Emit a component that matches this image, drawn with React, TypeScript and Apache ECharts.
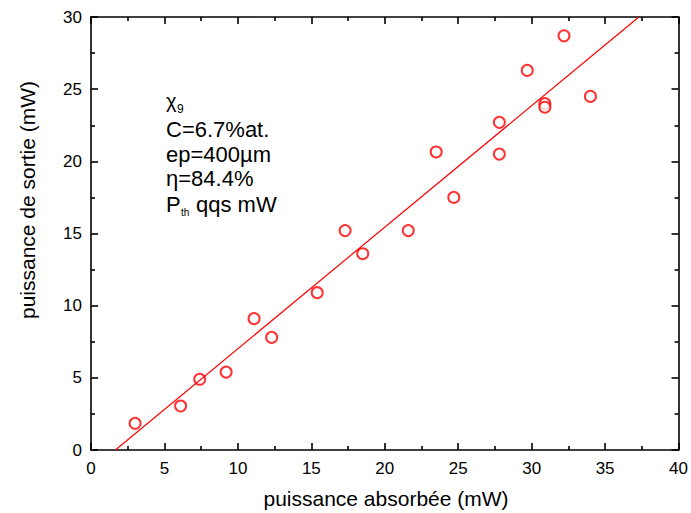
import React, { useEffect, useRef } from "react";
import * as echarts from "echarts";

const absorbed = [3.0, 6.1, 7.4, 9.2, 11.1, 12.3, 15.4, 17.3, 18.5, 21.6, 23.5, 24.7, 27.8, 27.8, 29.7, 30.9, 30.9, 32.2, 34.0];
const output = [1.85, 3.05, 4.9, 5.4, 9.1, 7.8, 10.9, 15.2, 13.6, 15.2, 20.65, 17.5, 22.7, 20.5, 26.3, 24.0, 23.75, 28.7, 24.5];
const fitX = [1.66, 37.3];
const fitY = [0, 30];
const xTitle = "puissance absorbée (mW)";
const yTitle = "puissance de sortie (mW)";

const FONT = "Liberation Sans, Arial, Helvetica, sans-serif";

export default function App() {
  const ref = useRef<HTMLDivElement>(null);
  useEffect(() => {
    if (!ref.current) return;
    const chart = echarts.init(ref.current, undefined, { renderer: "svg" });
    const axisCommon = {
      axisLine: { show: true, onZero: false, lineStyle: { color: "#000", width: 1.6 } },
      axisTick: { show: true, inside: true, length: 7, lineStyle: { color: "#000", width: 1.6 } },
      minorTick: { show: true, splitNumber: 2, length: 4, lineStyle: { color: "#000", width: 1.6 } },
      splitLine: { show: false },
      minorSplitLine: { show: false },
    };
    const xBase = { type: "value", min: 0, max: 40, interval: 5, ...axisCommon };
    const yBase = { type: "value", min: 0, max: 30, interval: 5, ...axisCommon };
    chart.setOption({
      animation: false,
      backgroundColor: "#fff",
      grid: { left: 91, right: 9, top: 17, bottom: 63 },
      xAxis: [
        { ...xBase, position: "bottom", axisLabel: { color: "#000", fontSize: 17, fontFamily: FONT, margin: 10 } },
        { ...xBase, position: "top", axisLabel: { show: false } },
      ],
      yAxis: [
        { ...yBase, position: "left", axisLabel: { color: "#000", fontSize: 17, fontFamily: FONT, margin: 9 } },
        { ...yBase, position: "right", axisLabel: { show: false } },
      ],
      series: [
        {
          type: "scatter",
          data: absorbed.map((x, i) => [x, output[i]]),
          symbol: "emptyCircle",
          symbolSize: 11,
          itemStyle: { color: "#ff0000", borderWidth: 1.2 },
        },
        {
          type: "line",
          data: fitX.map((x, i) => [x, fitY[i]]),
          symbol: "none",
          lineStyle: { color: "#ff0000", width: 1.2 },
        },
      ],
      graphic: [
        { type: "text", x: 386, y: 498, style: { text: xTitle, font: `21px ${FONT}`, fill: "#000", align: "center", verticalAlign: "middle" } },
        { type: "text", x: 27, y: 200, rotation: Math.PI / 2, style: { text: yTitle, font: `21px ${FONT}`, fill: "#000", align: "center", verticalAlign: "middle" } },
        { type: "text", x: 166, y: 100.5, style: { text: "χ", font: `20px ${FONT}`, fill: "#000", align: "left", verticalAlign: "middle" } },
        { type: "text", x: 177, y: 108.5, style: { text: "9", font: `12px ${FONT}`, fill: "#000", align: "left", verticalAlign: "middle" } },
        { type: "text", x: 166, y: 129.3, style: { text: "C=6.7%at.", font: `22px ${FONT}`, fill: "#000", align: "left", verticalAlign: "middle" } },
        { type: "text", x: 166, y: 154.3, style: { text: "ep=400µm", font: `22px ${FONT}`, fill: "#000", align: "left", verticalAlign: "middle" } },
        { type: "text", x: 166, y: 178.3, style: { text: "η=84.4%", font: `22px ${FONT}`, fill: "#000", align: "left", verticalAlign: "middle" } },
        { type: "text", x: 166, y: 204.3, style: { text: "P", font: `22px ${FONT}`, fill: "#000", align: "left", verticalAlign: "middle" } },
        { type: "text", x: 181, y: 212.5, style: { text: "th", font: `10px ${FONT}`, fill: "#000", align: "left", verticalAlign: "middle" } },
        { type: "text", x: 196, y: 204.3, style: { text: "qqs mW", font: `22px ${FONT}`, fill: "#000", align: "left", verticalAlign: "middle" } },
      ],
    });
    return () => chart.dispose();
  }, []);
  return (
    <div
      ref={ref}
      style={{ position: "fixed", left: 0, top: 0, width: 691, height: 513, background: "#fff" }}
    />
  );
}
